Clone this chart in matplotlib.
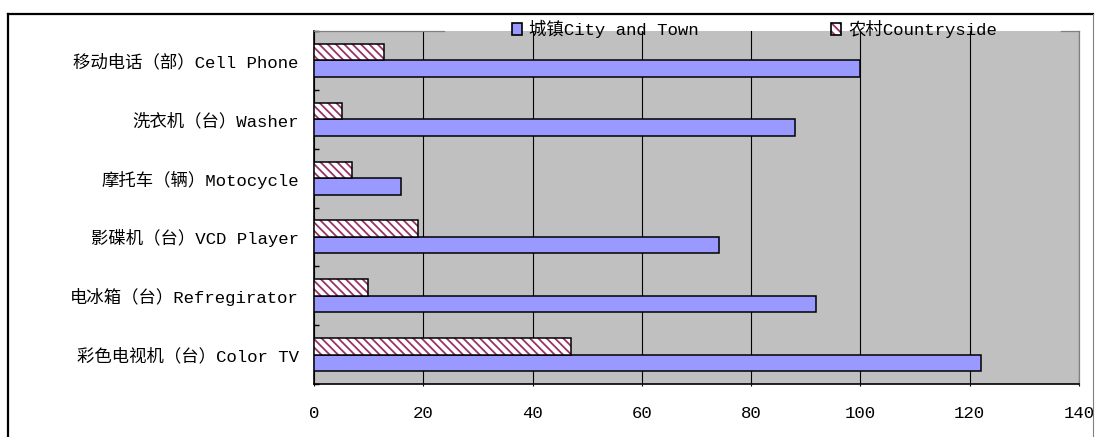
import matplotlib
matplotlib.use("Agg")
import matplotlib.pyplot as plt
import numpy as np
from matplotlib.patches import Patch
from matplotlib.lines import Line2D
from matplotlib.legend_handler import HandlerTuple

# Durable consumer goods owned per 100 households
categories = [
    "彩色电视机（台）Color TV",
    "电冰箱（台）Refregirator",
    "影碟机（台）VCD Player",
    "摩托车（辆）Motocycle",
    "洗衣机（台）Washer",
    "移动电话（部）Cell Phone",
]
urban = [122.1, 91.9, 74.1, 16.0, 88.0, 100.0]
rural = [47.1, 9.9, 19.1, 6.9, 5.1, 12.9]
series_names = ["城镇City and Town", "农村Countryside"]
x_ticks = [0, 20, 40, 60, 80, 100, 120, 140]

plt.rcParams["font.family"] = ["Liberation Mono", "Noto Sans CJK SC"]
plt.rcParams["hatch.linewidth"] = 1.3

FS = 12.5
URBAN_COLOR = "#9999FF"
RURAL_HATCH = "#993366"
PLOT_BG = "#C0C0C0"
HATCH = "\\\\\\\\"

W, H = 1096, 437
fig = plt.figure(figsize=(W / 100, H / 100), dpi=100)
ax = fig.add_axes([314 / W, 1 - 384 / H, (1079 - 314) / W, (384 - 31) / H])
ax.set_facecolor(PLOT_BG)

y = np.arange(len(categories))
bh = 0.28

ax.barh(y - bh / 2, urban, height=bh, color=URBAN_COLOR,
        edgecolor="black", linewidth=1.1, zorder=3)
ax.barh(y + bh / 2, rural, height=bh, color="white",
        edgecolor=RURAL_HATCH, hatch=HATCH, linewidth=0, zorder=3)
ax.barh(y + bh / 2, rural, height=bh, fill=False,
        edgecolor="black", linewidth=1.1, zorder=4)

ax.set_xlim(x_ticks[0], x_ticks[-1])
ax.set_ylim(-0.5, len(categories) - 0.5)
ax.set_xticks(x_ticks)
ax.set_xticklabels([str(t) for t in x_ticks], fontsize=FS)
ax.set_yticks(y)
ax.set_yticklabels(categories, fontsize=FS)
ax.set_yticks(np.arange(len(categories) + 1) - 0.5, minor=True)

ax.tick_params(axis="y", which="major", length=0, pad=11)
ax.tick_params(axis="y", which="minor", length=3.6, width=1, direction="in",
               color="black")
ax.tick_params(axis="x", which="major", length=1.5, width=0.8, pad=14,
               direction="out", color="black")

ax.set_axisbelow(True)
ax.xaxis.grid(True, color="black", linewidth=0.8)
ax.yaxis.grid(False)

for side in ("left", "bottom"):
    ax.spines[side].set_color("black")
    ax.spines[side].set_linewidth(1.2)
ax.spines["right"].set_color("#808080")
ax.spines["right"].set_linewidth(0.9)
ax.spines["top"].set_visible(False)

# top border of the plot area, interrupted where the legend sits
for x0, x1 in ((0.0, (444 - 314) / 765), ((1061 - 314) / 765, 1.0)):
    ax.plot([x0, x1], [1, 1], transform=ax.transAxes, color="#808080",
            linewidth=0.9, clip_on=False, zorder=5)

# legend
h_urban = Patch(facecolor=URBAN_COLOR, edgecolor="black", linewidth=1.2)
h_rural_fill = Patch(facecolor="white", edgecolor=RURAL_HATCH, hatch=HATCH,
                     linewidth=0)
h_rural_edge = Patch(fill=False, edgecolor="black", linewidth=1.2)
fig.legend([h_urban, (h_rural_fill, h_rural_edge)], series_names,
           handler_map={tuple: HandlerTuple(ndivide=1, pad=0)},
           loc="center", bbox_to_anchor=(754.5 / W, 1 - 29 / H),
           ncol=2, frameon=False, fontsize=FS, handlelength=0.6,
           handleheight=0.6, handletextpad=0.4, columnspacing=7.6,
           borderpad=0, borderaxespad=0)

# outer chart frame
fig.add_artist(Line2D([8 / W, 1093 / W], [1 - 13.5 / H, 1 - 13.5 / H],
                      color="black", linewidth=1.6))
fig.add_artist(Line2D([8.3 / W, 8.3 / W], [0, 1 - 13.5 / H],
                      color="black", linewidth=1.6))
fig.add_artist(Line2D([1093 / W, 1093 / W], [0, 1 - 13.5 / H],
                      color="#808080", linewidth=0.8))

fig.savefig("out.png", dpi=100)
